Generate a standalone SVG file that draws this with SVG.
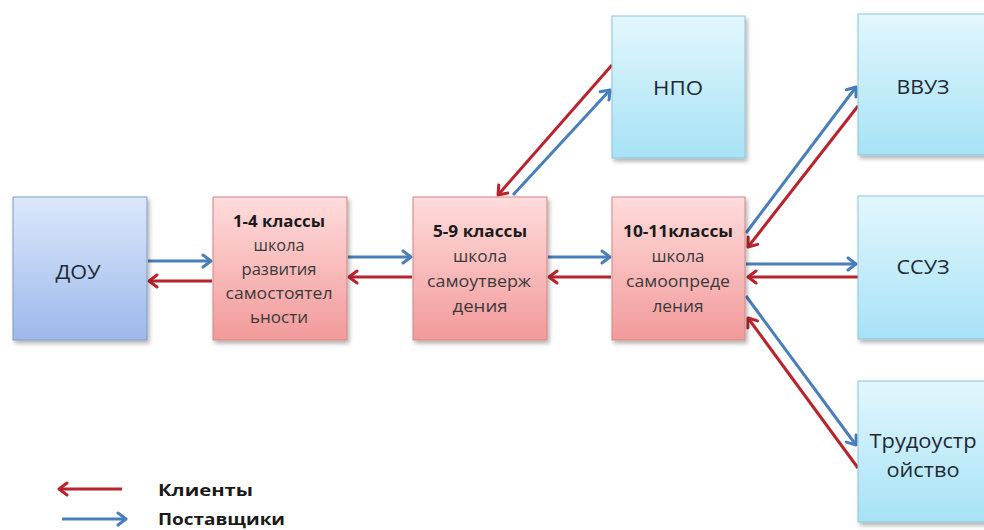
<svg xmlns="http://www.w3.org/2000/svg" width="984" height="530" viewBox="0 0 984 530">
<defs>
<linearGradient id="gBlue" x1="0" y1="0" x2="0" y2="1"><stop offset="0" stop-color="#DCE8FB"/><stop offset="1" stop-color="#9CB9EA"/></linearGradient>
<linearGradient id="gPink" x1="0" y1="0" x2="0" y2="1"><stop offset="0" stop-color="#FFDCDC"/><stop offset="1" stop-color="#F29A9A"/></linearGradient>
<linearGradient id="gCyan" x1="0" y1="0" x2="0" y2="1"><stop offset="0" stop-color="#E3F7FD"/><stop offset="1" stop-color="#A6E2F6"/></linearGradient>
<filter id="sh" x="-10%" y="-10%" width="130%" height="130%"><feDropShadow dx="2" dy="3" stdDeviation="2" flood-color="#000" flood-opacity="0.3"/></filter>
<marker id="aB" markerUnits="userSpaceOnUse" markerWidth="16" markerHeight="16" refX="11" refY="8" orient="auto"><path d="M3,2 L11,8 L3,14" fill="none" stroke="#4A7EBB" stroke-width="3" stroke-linecap="round" stroke-linejoin="round"/></marker>
<marker id="aR" markerUnits="userSpaceOnUse" markerWidth="16" markerHeight="16" refX="11" refY="8" orient="auto"><path d="M3,2 L11,8 L3,14" fill="none" stroke="#B8232D" stroke-width="3" stroke-linecap="round" stroke-linejoin="round"/></marker>
</defs>
<style>
.b{fill:url(#gBlue);stroke:#7F9BC6;stroke-width:1;filter:url(#sh)}
.p{fill:url(#gPink);stroke:#D28585;stroke-width:1;filter:url(#sh)}
.c{fill:url(#gCyan);stroke:#8FC4D6;stroke-width:1;filter:url(#sh)}
text{font-family:"Open Sans","Liberation Sans",sans-serif;text-anchor:middle}
.big{font-size:20px;fill:#1F2A36}
.hd{font-size:15.5px;font-weight:bold;fill:#1A1A1A}
.sm{font-size:16px;fill:#3A3A3A}
.lg{font-size:16px;font-weight:bold;fill:#1A1A1A;text-anchor:start}
.lb{stroke:#4A7EBB;stroke-width:3;fill:none;marker-end:url(#aB)}
.lr{stroke:#B8232D;stroke-width:3;fill:none;marker-end:url(#aR)}
</style>
<g id="connectors">
<line class="lb" x1="148" y1="261" x2="211" y2="261"/>
<line class="lr" x1="212" y1="281" x2="149" y2="281"/>
<line class="lb" x1="348" y1="257" x2="411" y2="257"/>
<line class="lr" x1="412" y1="277" x2="349" y2="277"/>
<line class="lb" x1="548" y1="257" x2="610" y2="257"/>
<line class="lr" x1="611" y1="277" x2="549" y2="277"/>
<line class="lr" x1="612" y1="65" x2="498" y2="195"/>
<line class="lb" x1="513" y1="195" x2="610" y2="90"/>
<line class="lb" x1="746" y1="233" x2="856" y2="87"/>
<line class="lr" x1="858" y1="106" x2="748" y2="247"/>
<line class="lb" x1="746" y1="264" x2="856" y2="264"/>
<line class="lr" x1="858" y1="277" x2="748" y2="277"/>
<line class="lb" x1="746" y1="296" x2="856" y2="445"/>
<line class="lr" x1="858" y1="468" x2="748" y2="318"/>
</g>
<g id="dou"><rect class="b" x="13" y="197" width="134" height="143"/><text class="big" x="78" y="279" textLength="45" lengthAdjust="spacingAndGlyphs">ДОУ</text></g>
<g id="k14"><rect class="p" x="213" y="197" width="134" height="143"/>
<text class="hd" x="279" y="227" textLength="92" lengthAdjust="spacingAndGlyphs">1-4 классы</text>
<text class="sm" x="279" y="251" textLength="51" lengthAdjust="spacingAndGlyphs">школа</text>
<text class="sm" x="279" y="275" textLength="75" lengthAdjust="spacingAndGlyphs">развития</text>
<text class="sm" x="279" y="299" textLength="107" lengthAdjust="spacingAndGlyphs">самостоятел</text>
<text class="sm" x="279" y="323" textLength="58" lengthAdjust="spacingAndGlyphs">ьности</text></g>
<g id="k59"><rect class="p" x="413" y="197" width="134" height="143"/>
<text class="hd" x="480" y="237" textLength="94" lengthAdjust="spacingAndGlyphs">5-9 классы</text>
<text class="sm" x="480" y="262" textLength="54" lengthAdjust="spacingAndGlyphs">школа</text>
<text class="sm" x="479" y="287" textLength="104" lengthAdjust="spacingAndGlyphs">самоутверж</text>
<text class="sm" x="480" y="312" textLength="55" lengthAdjust="spacingAndGlyphs">дения</text></g>
<g id="k1011"><rect class="p" x="612" y="197" width="133" height="143"/>
<text class="hd" x="678" y="237" textLength="110" lengthAdjust="spacingAndGlyphs">10-11классы</text>
<text class="sm" x="678" y="262" textLength="53" lengthAdjust="spacingAndGlyphs">школа</text>
<text class="sm" x="678" y="287" textLength="104" lengthAdjust="spacingAndGlyphs">самоопреде</text>
<text class="sm" x="678" y="312" textLength="51" lengthAdjust="spacingAndGlyphs">ления</text></g>
<g id="npo"><rect class="c" x="612" y="16" width="133" height="142"/><text class="big" x="678" y="95" textLength="50" lengthAdjust="spacingAndGlyphs">НПО</text></g>
<g id="vvuz"><rect class="c" x="858" y="14" width="134" height="141"/><text class="big" x="923" y="94" textLength="53" lengthAdjust="spacingAndGlyphs">ВВУЗ</text></g>
<g id="ssuz"><rect class="c" x="858" y="196" width="134" height="143"/><text class="big" x="923" y="274" textLength="53" lengthAdjust="spacingAndGlyphs">ССУЗ</text></g>
<g id="trud"><rect class="c" x="858" y="381" width="134" height="141"/><text class="big" x="923" y="448" textLength="107" lengthAdjust="spacingAndGlyphs">Трудоустр</text><text class="big" x="923" y="477" textLength="73" lengthAdjust="spacingAndGlyphs">ойство</text></g>
<g id="legend">
<line class="lr" x1="122" y1="489" x2="59" y2="489"/>
<line class="lb" x1="62" y1="519" x2="126" y2="519"/>
<text class="lg" x="158" y="496" textLength="95" lengthAdjust="spacingAndGlyphs">Клиенты</text>
<text class="lg" x="158" y="525" textLength="127" lengthAdjust="spacingAndGlyphs">Поставщики</text>
</g>
</svg>
